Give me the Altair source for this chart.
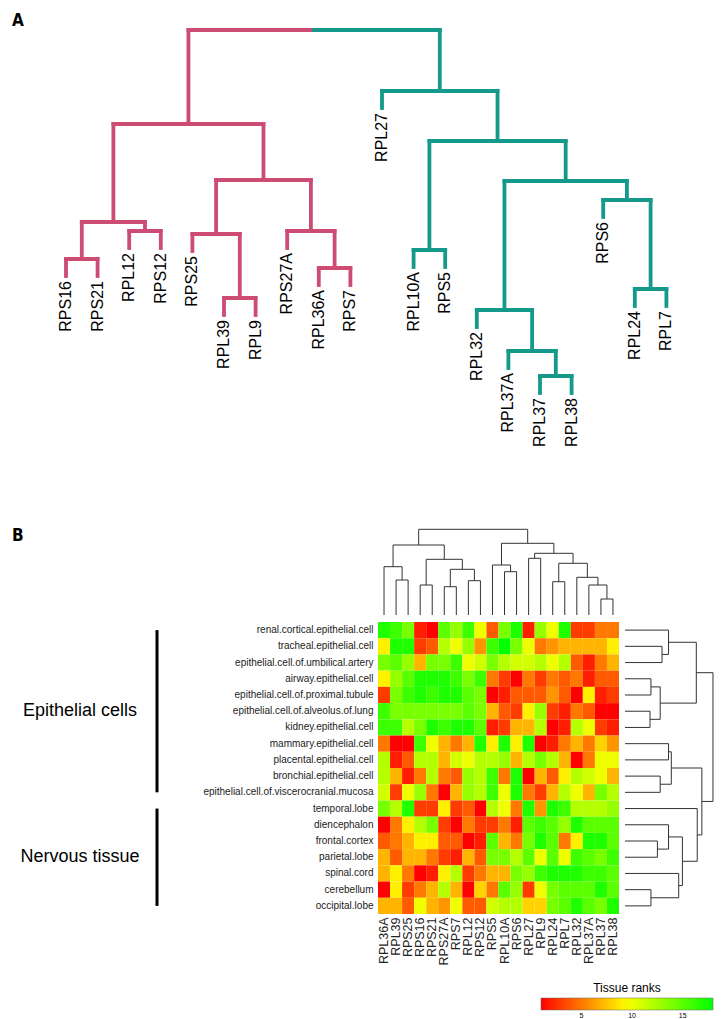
import altair as alt
import pandas as pd

FONT = "Liberation Sans"
PINK = "#CC4C74"
TEAL = "#14998A"
DARK = "#333333"

# ---------------- Panel A: dendrogram of ribosomal genes ----------------
a_leaves = ["RPS16", "RPS21", "RPL12", "RPS12", "RPS25", "RPL39", "RPL9", "RPS27A", "RPL36A", "RPS7",
            "RPL27", "RPL10A", "RPS5", "RPL32", "RPL37A", "RPL37", "RPL38", "RPS6", "RPL24", "RPL7"]
a_left = ["RPS16", "RPL12", "#0", "RPL39", "RPS25", "RPL36A", "RPS27A", "#4", "#2",
          "RPL37", "RPL37A", "RPL32", "RPL24", "RPS6", "#11", "RPL10A", "#15", "RPL27", "#8"]
a_right = ["RPS21", "RPS12", "#1", "RPL9", "#3", "RPS7", "#5", "#6", "#7",
           "RPL38", "#9", "#10", "RPL7", "#12", "#13", "RPS5", "#14", "#16", "#17"]
a_height = [16.1, 18.9, 19.8, 12.2, 18.6, 15.2, 18.9, 24.0, 29.6,
            4.4, 6.9, 11.0, 13.1, 22.0, 23.9, 17.0, 27.9, 32.9, 39.0]

# ---------------- Panel B: heatmap ----------------
genes = ["RPL36A", "RPL39", "RPS25", "RPS16", "RPS21", "RPS27A", "RPS7", "RPL12", "RPS12", "RPS5",
         "RPL10A", "RPS6", "RPL27", "RPL9", "RPL24", "RPL7", "RPL32", "RPL37A", "RPL37", "RPL38"]
tissues = ["renal.cortical.epithelial.cell", "tracheal.epithelial.cell",
           "epithelial.cell.of.umbilical.artery", "airway.epithelial.cell",
           "epithelial.cell.of.proximal.tubule", "epithelial.cell.of.alveolus.of.lung",
           "kidney.epithelial.cell", "mammary.epithelial.cell", "placental.epithelial.cell",
           "bronchial.epithelial.cell", "epithelial.cell.of.viscerocranial.mucosa",
           "temporal.lobe", "diencephalon", "frontal.cortex", "parietal.lobe",
           "spinal.cord", "cerebellum", "occipital.lobe"]
ranks = [
    [17, 16, 14, 2, 1, 15, 13, 16, 10, 4, 14, 17, 2, 13, 10, 17, 3, 3, 5, 5],
    [9, 17, 17, 3, 4, 12, 10, 13, 6, 16, 18, 14, 10, 5, 6, 7, 7, 7, 7, 9],
    [14, 15, 13, 7, 14, 14, 16, 10, 11, 14, 12, 11, 11, 12, 10, 12, 4, 2, 5, 7],
    [9, 13, 15, 17, 17, 17, 16, 14, 16, 5, 3, 1, 5, 3, 5, 4, 5, 2, 4, 4],
    [3, 14, 16, 17, 16, 17, 17, 15, 14, 1, 2, 4, 4, 4, 6, 4, 1, 9, 2, 3],
    [16, 14, 14, 14, 14, 14, 14, 15, 14, 7, 4, 3, 9, 13, 3, 2, 5, 4, 1, 1],
    [16, 16, 12, 14, 17, 16, 17, 17, 15, 2, 3, 7, 7, 12, 1, 2, 12, 10, 3, 2],
    [5, 1, 1, 16, 10, 7, 5, 7, 17, 9, 17, 9, 17, 1, 2, 5, 7, 5, 8, 6],
    [12, 2, 4, 12, 12, 7, 11, 10, 12, 12, 13, 7, 12, 14, 12, 7, 1, 5, 10, 10],
    [12, 7, 2, 5, 12, 5, 4, 13, 12, 16, 5, 17, 1, 7, 4, 9, 12, 11, 10, 7],
    [11, 3, 10, 13, 5, 1, 7, 13, 12, 16, 10, 17, 5, 3, 7, 12, 10, 7, 14, 12],
    [14, 12, 17, 3, 3, 9, 3, 4, 1, 12, 10, 5, 17, 6, 17, 16, 12, 12, 12, 13],
    [1, 5, 9, 12, 14, 3, 1, 5, 3, 3, 5, 2, 15, 16, 15, 13, 17, 15, 15, 15],
    [4, 5, 7, 9, 9, 4, 4, 1, 2, 15, 7, 5, 14, 17, 15, 5, 9, 17, 17, 15],
    [7, 4, 7, 7, 5, 3, 2, 7, 4, 14, 14, 12, 15, 10, 15, 10, 16, 15, 14, 16],
    [7, 9, 5, 1, 2, 9, 12, 3, 5, 7, 7, 14, 13, 16, 17, 17, 17, 16, 16, 15],
    [1, 9, 3, 5, 7, 12, 7, 1, 8, 5, 15, 13, 3, 10, 14, 15, 15, 15, 17, 15],
    [7, 7, 4, 10, 7, 6, 10, 4, 4, 11, 12, 12, 8, 8, 14, 15, 17, 15, 14, 17],
]

# column dendrogram (genes)
c_left = ["RPL39", "RPL36A", "RPS16", "RPS27A", "RPL12", "#3", "#2", "#1",
          "RPL10A", "RPS5", "RPL27", "RPL24", "RPL37", "RPL37A", "RPL32", "#11", "#10", "#9", "#7"]
c_right = ["RPS25", "#0", "RPS21", "RPS7", "RPS12", "#4", "#5", "#6",
           "RPS6", "#8", "RPL9", "RPL7", "RPL38", "#12", "#13", "#14", "#15", "#16", "#17"]
c_height = [35.0, 48.3, 30.0, 28.3, 34.3, 45.7, 55.7, 70.0,
            43.3, 50.0, 56.7, 33.3, 16.0, 30.0, 37.7, 51.7, 61.7, 71.7, 85.7]

# row dendrogram (tissues)
r_left = ["tracheal.epithelial.cell", "renal.cortical.epithelial.cell", "airway.epithelial.cell",
          "epithelial.cell.of.alveolus.of.lung", "#2", "#1", "mammary.epithelial.cell",
          "bronchial.epithelial.cell", "#6", "frontal.cortex", "diencephalon", "cerebellum",
          "spinal.cord", "#10", "temporal.lobe", "#8", "#5"]
r_right = ["epithelial.cell.of.umbilical.artery", "#0", "epithelial.cell.of.proximal.tubule",
           "kidney.epithelial.cell", "#3", "#4", "placental.epithelial.cell",
           "epithelial.cell.of.viscerocranial.mucosa", "#7", "parietal.lobe", "#9", "occipital.lobe",
           "#11", "#12", "#13", "#14", "#15"]
r_height = [40, 47, 28, 27, 38, 77, 47, 38, 50, 35, 47, 28, 58, 62, 78, 83, 95]

groups = ["Epithelial cells", "Nervous tissue"]
group_first = [0, 11]
group_last = [10, 17]


def dendro_segments(leaves, lefts, rights, heights, hang=None):
    pos = {n: i for i, n in enumerate(leaves)}
    nx, nh, mem = {}, {}, {}
    segs, tips = [], []

    def child(c, h):
        if c.startswith("#"):
            k = int(c[1:])
            return nx[k], nh[k], mem[k]
        base = h - hang if hang is not None else 0.0
        tips.append({"label": c, "pos": pos[c], "h": base})
        return pos[c], base, {c}

    for k, (a, b, h) in enumerate(zip(lefts, rights, heights)):
        xa, ha, ma = child(a, h)
        xb, hb, mb = child(b, h)
        segs.append({"p": xa, "p2": xa, "h": ha, "h2": h, "mem": ma})
        segs.append({"p": xb, "p2": xb, "h": hb, "h2": h, "mem": mb})
        segs.append({"p": xa, "p2": xb, "h": h, "h2": h, "mem": ma | mb})
        nx[k] = (xa + xb) / 2
        nh[k] = h
        mem[k] = ma | mb
    return segs, tips, mem


# ---- Panel A
segA, tipsA, memA = dendro_segments(a_leaves, a_left, a_right, a_height, hang=1.7)
left_set = memA[int(a_left[-1][1:])]
rowsA = []
for s in segA:
    if s["mem"] <= left_set:
        rowsA.append({**s, "cluster": "left"})
    elif not (s["mem"] & left_set):
        rowsA.append({**s, "cluster": "right"})
    else:
        mid = (s["p"] + s["p2"]) / 2
        rowsA.append({**s, "p2": mid, "cluster": "left"})
        rowsA.append({**s, "p": mid, "cluster": "right"})
dfA = pd.DataFrame([{k: v for k, v in r.items() if k != "mem"} for r in rowsA])
dfA_tips = pd.DataFrame(tipsA)

xA = alt.Scale(domain=[-1.835, 20.506], nice=False, zero=False)
yA = alt.Scale(domain=[-10, 41.2], nice=False, zero=False)

a_lines = alt.Chart(dfA).mark_rule(strokeWidth=3.8, strokeCap="square").encode(
    x=alt.X("p:Q", scale=xA, axis=None),
    x2="p2",
    y=alt.Y("h:Q", scale=yA, axis=None),
    y2="h2",
    color=alt.Color("cluster:N", scale=alt.Scale(domain=["left", "right"], range=[PINK, TEAL]), legend=None),
)
a_labels = alt.Chart(dfA_tips).mark_text(angle=270, align="right", baseline="middle", dx=-5,
                                         fontSize=16, color="black").encode(
    x=alt.X("pos:Q", scale=xA, axis=None),
    y=alt.Y("h:Q", scale=yA, axis=None),
    text="label:N",
)
a_letter = alt.Chart(pd.DataFrame({"t": ["A"]})).mark_text(
    align="left", baseline="top", fontSize=17, fontWeight="bold",
    font="Liberation Sans Narrow, DejaVu Sans Condensed, sans-serif", color="black").encode(
    text="t:N", x=alt.value(4), y=alt.value(5))
panelA = alt.layer(a_lines, a_labels, a_letter).properties(width=706, height=512)

# ---- column dendrogram
segC, _, _ = dendro_segments(genes, c_left, c_right, c_height)
dfC = pd.DataFrame([{k: v for k, v in s.items() if k != "mem"} for s in segC])
xC = alt.Scale(domain=[-31.205, 19.5], nice=False, zero=False)
yC = alt.Scale(domain=[-7, 95], nice=False, zero=False)
c_lines = alt.Chart(dfC).mark_rule(strokeWidth=1, color=DARK).encode(
    x=alt.X("p:Q", scale=xC, axis=None), x2="p2",
    y=alt.Y("h:Q", scale=yC, axis=None), y2="h2")
b_letter = alt.Chart(pd.DataFrame({"t": ["B"]})).mark_text(
    align="left", baseline="top", fontSize=17, fontWeight="bold",
    font="Liberation Sans Narrow, DejaVu Sans Condensed, sans-serif", color="black").encode(
    text="t:N", x=alt.value(4), y=alt.value(8))
colDendro = alt.layer(c_lines, b_letter).properties(width=611, height=102)

# ---- row dendrogram
segR, _, _ = dendro_segments(tissues, r_left, r_right, r_height)
dfR = pd.DataFrame([{k: v for k, v in s.items() if k != "mem"} for s in segR])
rowScale = alt.Scale(domain=[-0.5, 17.5], reverse=True, nice=False, zero=False)
xR = alt.Scale(domain=[-6.48, 96.1], nice=False, zero=False)
rowDendro = alt.Chart(dfR).mark_rule(strokeWidth=1, color=DARK).encode(
    x=alt.X("h:Q", scale=xR, axis=None), x2="h2",
    y=alt.Y("p:Q", scale=rowScale, axis=None), y2="p2",
).properties(width=95, height=292)

# ---- left group labels
dfG = pd.DataFrame({"group": groups, "first": group_first, "last": group_last})
dfG["mid"] = (dfG["first"] + dfG["last"]) / 2
g_text = alt.Chart(dfG).mark_text(fontSize=18, color="black", align="center", baseline="middle").encode(
    x=alt.value(72), y=alt.Y("mid:Q", scale=rowScale, axis=None), text="group:N")
g_bars = alt.Chart(dfG).mark_rule(strokeWidth=3, color="black").encode(
    x=alt.value(149), y=alt.Y("first:Q", scale=rowScale, axis=None), y2="last")
leftPanel = alt.layer(g_bars, g_text).properties(width=370, height=292)

# ---- heatmap
heat_rows = []
for t, vals in zip(tissues, ranks):
    for g, v in zip(genes, vals):
        heat_rows.append({"tissue": t, "gene": g, "rank": v})
dfH = pd.DataFrame(heat_rows)
heat = alt.Chart(dfH).mark_rect().encode(
    x=alt.X("gene:N", sort=genes, scale=alt.Scale(paddingInner=0, paddingOuter=0),
            axis=alt.Axis(orient="bottom", title=None, ticks=False, domain=False, labelAngle=270,
                          labelFontSize=12.5, labelPadding=3, labelColor="#222222", labelOverlap=False)),
    y=alt.Y("tissue:N", sort=tissues, scale=alt.Scale(paddingInner=0, paddingOuter=0),
            axis=alt.Axis(orient="left", title=None, ticks=False, domain=False, labelFontSize=10,
                          labelPadding=5, labelColor="#222222", labelLimit=400, labelOverlap=False)),
    color=alt.Color("rank:Q",
                    scale=alt.Scale(domain=[1, 9.5, 18], range=["#FF0000", "#FFFF00", "#00FF00"],
                                    interpolate="rgb"),
                    legend=alt.Legend(orient="none", legendX=533, legendY=463, direction="horizontal",
                                      gradientLength=172, gradientThickness=12, title="Tissue ranks",
                                      titleFontSize=12, titleFontWeight="normal", titleAnchor="middle",
                                      titlePadding=3, titleColor="black", labelFontSize=7,
                                      labelColor="black", labelOffset=2, values=[5, 10, 15],
                                      gradientStrokeColor="#666666", gradientStrokeWidth=0.5,
                                      padding=0)),
).properties(width=241, height=292)

bottomRow = alt.hconcat(leftPanel, heat, rowDendro, spacing=0, bounds="flush")
panelB = alt.vconcat(colDendro, bottomRow, spacing=0, bounds="flush")

chart = alt.vconcat(panelA, panelB, spacing=0, bounds="flush").properties(
    padding=0
).configure(font=FONT).configure_view(stroke=None)

chart.save("out.html", embed_options={"renderer": "svg", "actions": False})
